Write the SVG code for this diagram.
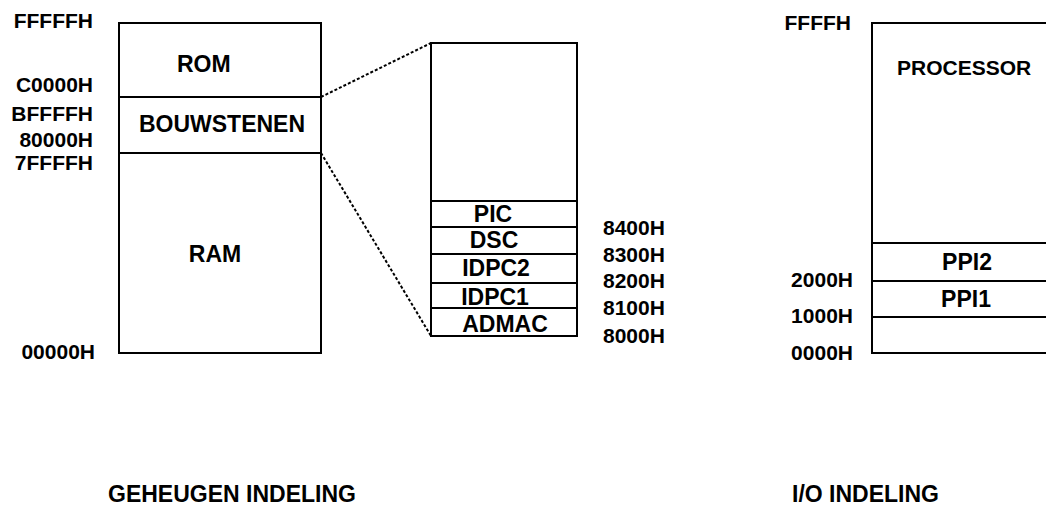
<svg xmlns="http://www.w3.org/2000/svg" width="1046" height="507" viewBox="0 0 1046 507">
<style>
.box{fill:#fff;stroke:#000;stroke-width:2}
.ln{stroke:#000;stroke-width:2;fill:none}
.dot{stroke:#000;stroke-width:2;fill:none;stroke-dasharray:3 2}
.lbl{font-family:"Liberation Sans",Arial,sans-serif;font-weight:bold;font-size:21px;fill:#000}
.nm{font-family:"Liberation Sans",Arial,sans-serif;font-weight:bold;font-size:23px;fill:#000}
.ttl{font-family:"Liberation Sans",Arial,sans-serif;font-weight:bold;font-size:23px;fill:#000}
</style>
<rect width="1046" height="507" fill="#fff"/>
<g id="connectors">
<line class="dot" x1="321" y1="97" x2="431" y2="43"/>
<line class="dot" x1="321" y1="153" x2="431" y2="336"/>
</g>
<g id="geheugen">
<g id="rom"><rect class="box" x="119" y="23" width="202" height="74"/><text class="nm" x="177" y="72">ROM</text></g>
<g id="bouwstenen"><rect class="box" x="119" y="97" width="202" height="56"/><text class="nm" x="222" y="132" text-anchor="middle">BOUWSTENEN</text></g>
<g id="ram"><rect class="box" x="119" y="153" width="202" height="200"/><text class="nm" x="215" y="262" text-anchor="middle">RAM</text></g>
<g id="mem-labels" class="lbl" text-anchor="end">
<text x="93" y="28">FFFFFH</text>
<text x="93" y="92">C0000H</text>
<text x="93" y="121">BFFFFH</text>
<text x="93" y="147">80000H</text>
<text x="93" y="170">7FFFFH</text>
<text x="95" y="359">00000H</text>
</g>
</g>
<g id="bouwstenen-detail">
<g id="detail-top"><rect class="box" x="431" y="43" width="146" height="158"/></g>
<g id="pic"><rect class="box" x="431" y="201" width="146" height="26"/><text class="nm" x="493" y="222" text-anchor="middle">PIC</text></g>
<g id="dsc"><rect class="box" x="431" y="227" width="146" height="27"/><text class="nm" x="494" y="248" text-anchor="middle">DSC</text></g>
<g id="idpc2"><rect class="box" x="431" y="254" width="146" height="29"/><text class="nm" x="496" y="276" text-anchor="middle">IDPC2</text></g>
<g id="idpc1"><rect class="box" x="431" y="283" width="146" height="25"/><text class="nm" x="495" y="305" text-anchor="middle">IDPC1</text></g>
<g id="admac"><rect class="box" x="431" y="308" width="146" height="28"/><text class="nm" x="505" y="332" text-anchor="middle">ADMAC</text></g>
<g id="detail-labels" class="lbl">
<text x="603" y="235">8400H</text>
<text x="603" y="262">8300H</text>
<text x="603" y="288">8200H</text>
<text x="603" y="315">8100H</text>
<text x="603" y="343">8000H</text>
</g>
</g>
<g id="io">
<g id="processor"><path class="ln" d="M1046 23 H872 V243 H1046"/><text class="lbl" x="897" y="75">PROCESSOR</text></g>
<g id="ppi2"><path class="ln" d="M872 243 V281 H1046"/><text class="nm" x="967" y="270" text-anchor="middle">PPI2</text></g>
<g id="ppi1"><path class="ln" d="M872 281 V317 H1046"/><text class="nm" x="966" y="307" text-anchor="middle">PPI1</text></g>
<g id="io-low"><path class="ln" d="M872 317 V353 H1046"/></g>
<g id="io-labels" class="lbl" text-anchor="end">
<text x="851" y="30">FFFFH</text>
<text x="853" y="287">2000H</text>
<text x="853" y="323">1000H</text>
<text x="853" y="360">0000H</text>
</g>
</g>
<text id="title-geheugen" class="ttl" x="108" y="502">GEHEUGEN INDELING</text>
<text id="title-io" class="ttl" x="792" y="502">I/O INDELING</text>
</svg>
